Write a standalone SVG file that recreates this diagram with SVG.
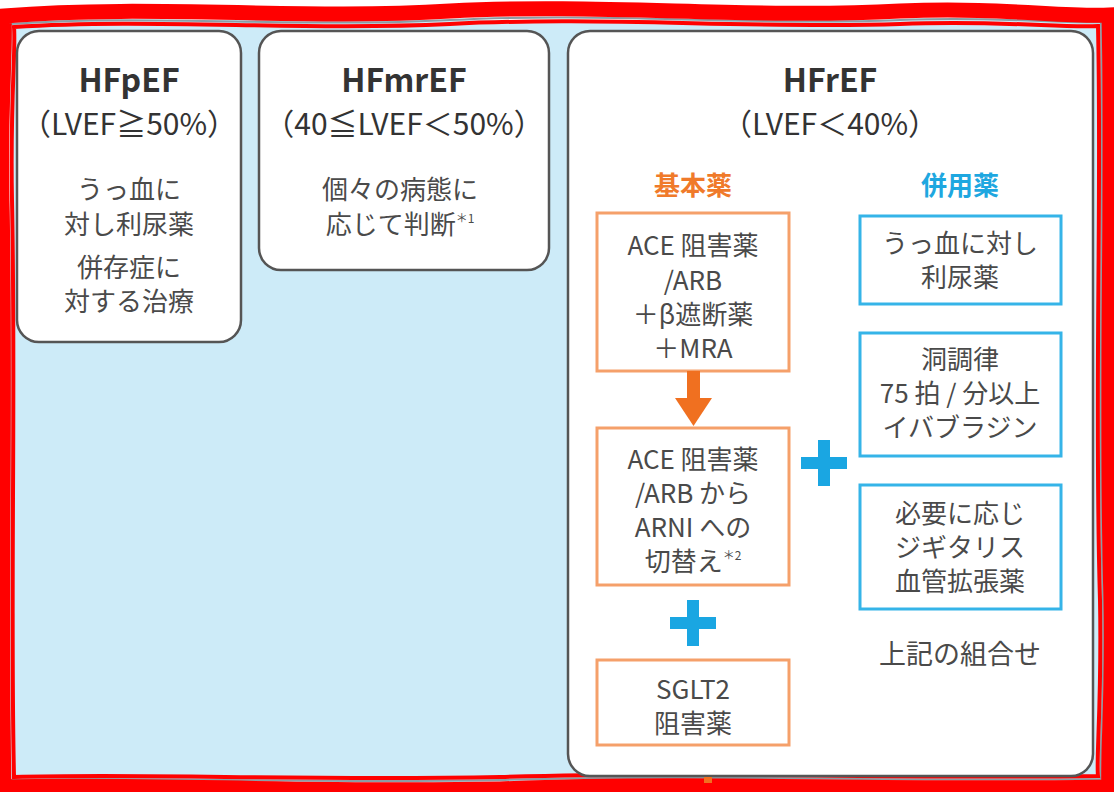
<svg xmlns="http://www.w3.org/2000/svg" width="1114" height="792" viewBox="0 0 1114 792">
<style>
text{font-family:"Noto Sans CJK JP","Noto Sans",sans-serif;text-anchor:middle;}
.title{font-size:32px;font-weight:bold;fill:#333;}
.sub{font-size:30px;fill:#333;}
.body{font-size:26px;fill:#4a4a4a;}
.card{fill:#fff;stroke:#555;stroke-width:2.5;}
.obox{fill:#fff;stroke:#f5a06a;stroke-width:3;}
.bbox{fill:#fff;stroke:#35b4e8;stroke-width:3;}
.sup{font-size:12px;}
.plus{fill:#1aa6e2;}
</style>
<rect x="0" y="0" width="1114" height="792" fill="#fff"/>
<rect x="10" y="20" width="1094" height="764" fill="#cdebf8"/>

<g id="frame" fill="none">
<path d="M 10 24 C 150 14, 300 28, 450 20 C 600 12, 750 26, 900 20 C 1000 16, 1060 24, 1101 22 C 1105 200, 1097 400, 1103 600 C 1105 700, 1099 760, 1101 779 C 900 782, 700 774, 500 780 C 300 784, 150 776, 10 780 C 6 600, 12 400, 8 200 C 6 100, 12 50, 10 24 Z" stroke="#8c9ca4" stroke-width="2"/>
<path d="M 14 27 C 150 18, 300 31, 450 24 C 600 16, 750 29, 900 24 C 1000 20, 1060 28, 1098 26 C 1102 200, 1094 400, 1100 600 C 1102 700, 1096 760, 1098 776 C 900 779, 700 771, 500 777 C 300 781, 150 773, 14 777 C 10 600, 16 400, 12 200 C 10 100, 16 50, 14 27 Z" stroke="#ff0000" stroke-width="4"/>
<path d="M 4 16 C 150 4, 300 20, 450 11 C 600 3, 750 19, 900 11 C 1000 7, 1060 17, 1109 15 C 1113 200, 1105 400, 1111 600 C 1113 700, 1107 760, 1109 787 C 900 791, 700 781, 500 789 C 300 793, 150 783, 4 787 C 0 600, 6 400, 2 200 C 0 100, 6 50, 4 16 Z" stroke="#ff0000" stroke-width="15"/>
</g>

<g id="hfpef">
<rect class="card" x="17" y="31" width="224" height="311" rx="22"/>
<text class="title" x="129" y="92">HFpEF</text>
<text class="sub" x="129" y="135">（LVEF≧50%）</text>
<text class="body" x="129" y="199">うっ血に</text>
<text class="body" x="129" y="234">対し利尿薬</text>
<text class="body" x="129" y="277">併存症に</text>
<text class="body" x="129" y="311">対する治療</text>
</g>

<g id="hfmref">
<rect class="card" x="259" y="31" width="290" height="239" rx="22"/>
<text class="title" x="404" y="92">HFmrEF</text>
<text class="sub" x="404" y="135">（40≦LVEF＜50%）</text>
<text class="body" x="400" y="199">個々の病態に</text>
<text class="body" x="400" y="234">応じて判断<tspan class="sup" dy="-11">＊1</tspan></text>
</g>

<g id="hfref">
<rect class="card" x="568" y="31" width="525" height="745" rx="22"/>
<text class="title" x="830" y="92">HFrEF</text>
<text class="sub" x="830" y="135">（LVEF＜40%）</text>
<text x="693" y="195" style="font-size:26px;font-weight:bold;fill:#f07a2a">基本薬</text>
<text x="960" y="195" style="font-size:26px;font-weight:bold;fill:#1ea7e0">併用薬</text>
</g>

<g id="base1">
<rect class="obox" x="597" y="213" width="192" height="158"/>
<text class="body" x="693" y="255">ACE 阻害薬</text>
<text class="body" x="693" y="290">/ARB</text>
<text class="body" x="693" y="324">＋β遮断薬</text>
<text class="body" x="693" y="358">＋MRA</text>
</g>

<g id="base2">
<rect class="obox" x="597" y="428" width="192" height="157"/>
<text class="body" x="693" y="469">ACE 阻害薬</text>
<text class="body" x="693" y="503">/ARB から</text>
<text class="body" x="693" y="537">ARNI への</text>
<text class="body" x="693" y="571">切替え<tspan class="sup" dy="-11">＊2</tspan></text>
</g>

<g id="base3">
<rect class="obox" x="597" y="660" width="192" height="85"/>
<text class="body" x="693" y="699">SGLT2</text>
<text class="body" x="693" y="733">阻害薬</text>
</g>

<g id="add1">
<rect class="bbox" x="860" y="216" width="201" height="88"/>
<text class="body" x="960" y="253">うっ血に対し</text>
<text class="body" x="960" y="287">利尿薬</text>
</g>

<g id="add2">
<rect class="bbox" x="860" y="333" width="201" height="123"/>
<text class="body" x="960" y="369">洞調律</text>
<text class="body" x="960" y="403">75 拍 / 分以上</text>
<text class="body" x="960" y="437">イバブラジン</text>
</g>

<g id="add3">
<rect class="bbox" x="860" y="485" width="201" height="124"/>
<text class="body" x="960" y="523">必要に応じ</text>
<text class="body" x="960" y="557">ジギタリス</text>
<text class="body" x="960" y="591">血管拡張薬</text>
</g>

<g id="combo">
<text x="960" y="664" style="font-size:27px;fill:#4a4a4a">上記の組合せ</text>
</g>

<g id="connectors">
<rect x="687" y="371" width="13" height="30" fill="#f07020"/>
<polygon points="675,398 712,398 693.5,426" fill="#f07020"/>
<path class="plus" d="M 687 600 H 699 V 617 H 716 V 629 H 699 V 646 H 687 V 629 H 670 V 617 H 687 Z"/>
<path class="plus" d="M 818 440 H 830 V 457 H 847 V 469 H 830 V 486 H 818 V 469 H 801 V 457 H 818 Z"/>
<rect x="704" y="777" width="8" height="6" fill="#f07020"/>
</g>
</svg>
